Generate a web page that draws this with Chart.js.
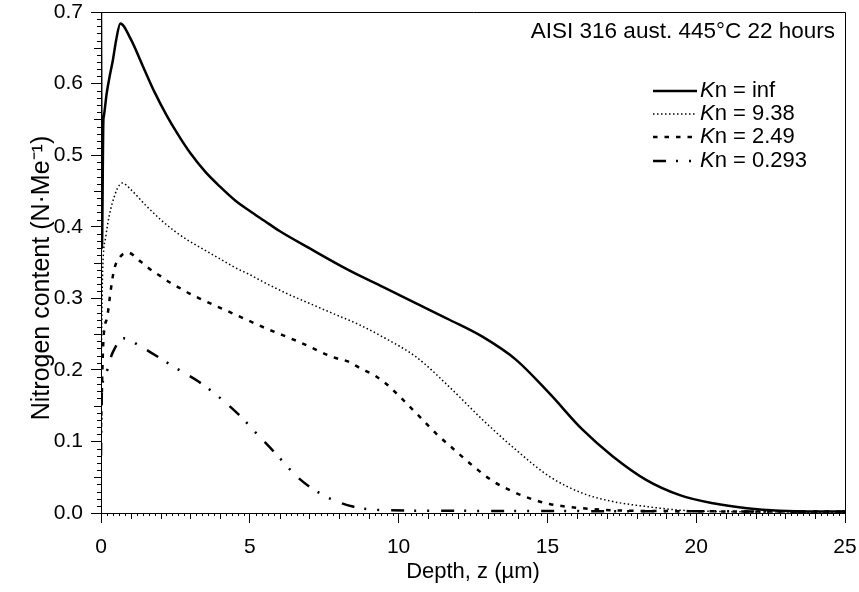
<!DOCTYPE html>
<html>
<head>
<meta charset="utf-8">
<script src="https://cdn.jsdelivr.net/npm/chart.js@4.4.0/dist/chart.umd.min.js"></script>
<style>
  html, body { margin: 0; padding: 0; background: #fff; }
  canvas { display: block; }
</style>
</head>
<body>
<canvas id="nitrogenChart" width="859" height="592"></canvas>
<script>
// depth profiles (z in µm, content in N/Me)
const infDepth = [0, 0.03, 0.08, 0.09, 0.19, 0.29, 0.4, 0.51, 0.65, 1.0, 1.4, 1.8, 2.2, 2.6, 3.0, 3.5, 4.0, 4.5, 5.0, 5.5, 6.0, 7.0, 8.34, 9.47, 10.59, 11.71, 12.83, 13.95, 15.07, 16.19, 17.2, 18.33, 19.45, 20.57, 21.7, 22.8, 24, 25];
const infValues = [0.70, 0.37, 0.549, 0.553, 0.586, 0.61, 0.633, 0.661, 0.684, 0.662, 0.625, 0.588, 0.556, 0.528, 0.503, 0.477, 0.456, 0.437, 0.422, 0.408, 0.394, 0.370, 0.339, 0.316, 0.293, 0.270, 0.246, 0.214, 0.167, 0.116, 0.079, 0.046, 0.025, 0.0135, 0.0066, 0.003, 0.002, 0.002];

const kn938Depth = [0, 0.05, 0.16, 0.38, 0.72, 1.0, 1.5, 2.0, 2.5, 3.0, 3.5, 4.0, 4.5, 5.0, 5.54, 6.33, 7.0, 7.78, 8.68, 9.47, 10.59, 11.71, 12.83, 13.95, 15.07, 16.19, 17.2, 18.33, 19.45, 21, 25];
const kn938Values = [0.18, 0.33, 0.386, 0.433, 0.461, 0.452, 0.430, 0.410, 0.393, 0.379, 0.367, 0.355, 0.343, 0.333, 0.321, 0.305, 0.293, 0.279, 0.263, 0.246, 0.218, 0.176, 0.130, 0.088, 0.051, 0.0275, 0.016, 0.009, 0.004, 0.002, 0.001];

const kn249Depth = [0, 0.08, 0.21, 0.33, 0.44, 0.61, 0.89, 1.34, 1.67, 2.0, 2.32, 2.62, 2.96, 3.3, 4.42, 5.54, 6.66, 7.78, 8.34, 8.68, 9.2, 9.6, 10.03, 10.65, 11.26, 11.91, 12.52, 13.19, 13.84, 14.51, 15.07, 16.19, 18, 25];
const kn249Values = [0.12, 0.24, 0.274, 0.312, 0.34, 0.356, 0.364, 0.351, 0.340, 0.331, 0.322, 0.315, 0.307, 0.300, 0.279, 0.258, 0.239, 0.218, 0.211, 0.203, 0.192, 0.180, 0.163, 0.137, 0.111, 0.087, 0.065, 0.044, 0.030, 0.019, 0.0126, 0.0066, 0.003, 0.002];

const kn0293Depth = [0, 0.03, 0.16, 0.38, 0.77, 1.28, 1.84, 2.62, 3.3, 4.08, 4.64, 5.32, 5.76, 6.66, 7.56, 8.46, 9.5, 12, 25];
const kn0293Values = [0.08, 0.17, 0.195, 0.223, 0.244, 0.234, 0.220, 0.200, 0.183, 0.158, 0.137, 0.107, 0.088, 0.048, 0.023, 0.009, 0.004, 0.003, 0.002];

const seriesLabels = ['inf', '9.38', '2.49', '0.293'];
const noteText = 'AISI 316 aust. 445°C 22 hours';
const xTitle = 'Depth, z (µm)';
const yTitle = 'Nitrogen content (N·Me⁻¹)';

const FONT = '"Liberation Sans", Arial, sans-serif';
Chart.defaults.font.family = FONT;
Chart.defaults.color = '#000';

function toPoints(xs, ys) {
    return xs.map((x, i) => ({ x: x, y: ys[i] }));
}

const lineStyles = [
    { borderWidth: 2.5, borderDash: [] },
    { borderWidth: 1.5, borderDash: [1.5, 2.5] },
    { borderWidth: 2.5, borderDash: [4.5, 7] },
    { borderWidth: 2.5, borderDash: [13, 10, 2, 11, 2, 12] }
];

const allData = [
    toPoints(infDepth, infValues),
    toPoints(kn938Depth, kn938Values),
    toPoints(kn249Depth, kn249Values),
    toPoints(kn0293Depth, kn0293Values)
];

const datasets = allData.map((pts, i) => ({
    label: 'Kn = ' + seriesLabels[i],
    data: pts,
    showLine: true,
    borderColor: '#000',
    backgroundColor: '#000',
    borderWidth: lineStyles[i].borderWidth,
    borderDash: lineStyles[i].borderDash,
    pointRadius: 0,
    cubicInterpolationMode: 'monotone',
    fill: false
}));

// frame, minor ticks, y title, note and legend
const decorations = {
    id: 'decorations',
    afterDraw(chart) {
        const ctx = chart.ctx;
        const area = chart.chartArea;
        const xs = chart.scales.x;
        const ys = chart.scales.y;
        ctx.save();
        ctx.strokeStyle = '#000';
        ctx.lineWidth = 1;
        ctx.beginPath();
        ctx.moveTo(area.left, area.top + 0.5);
        ctx.lineTo(area.right + 0.5, area.top + 0.5);
        ctx.lineTo(area.right + 0.5, area.bottom);
        ctx.stroke();

        // minor ticks on x
        ctx.beginPath();
        for (let i = 0; i <= 125; i++) {
            if (i % 25 === 0) continue;
            const px = Math.round(xs.getPixelForValue(i * 0.2)) + 0.5;
            const len = (i % 5 === 0) ? 6 : 3;
            ctx.moveTo(px, area.bottom);
            ctx.lineTo(px, area.bottom + len);
        }
        // minor ticks on y
        for (let i = 0; i <= 70; i++) {
            if (i % 10 === 0) continue;
            const py = Math.round(ys.getPixelForValue(i / 100)) + 0.5;
            const len = (i % 5 === 0) ? 7 : 4;
            ctx.moveTo(area.left, py);
            ctx.lineTo(area.left - len, py);
        }
        ctx.stroke();

        ctx.fillStyle = '#000';

        // y axis title
        ctx.save();
        ctx.translate(49, 278);
        ctx.rotate(-Math.PI / 2);
        ctx.font = '25px ' + FONT;
        ctx.textAlign = 'center';
        ctx.textBaseline = 'alphabetic';
        ctx.fillText(yTitle, 0, 0);
        ctx.restore();

        // note in the corner
        ctx.font = '22.5px ' + FONT;
        ctx.textAlign = 'right';
        ctx.textBaseline = 'middle';
        ctx.fillText(noteText, area.right - 10, 32);

        // legend
        const rowY = [91, 114, 137, 161];
        chart.data.datasets.forEach((ds, i) => {
            const y = rowY[i];
            ctx.beginPath();
            ctx.lineWidth = ds.borderWidth;
            ctx.setLineDash(ds.borderDash);
            ctx.moveTo(653, y);
            ctx.lineTo(697, y);
            ctx.stroke();
            ctx.setLineDash([]);
            ctx.textAlign = 'left';
            ctx.font = 'italic 22px ' + FONT;
            ctx.fillText('K', 700, y);
            const kw = ctx.measureText('K').width;
            ctx.font = '22px ' + FONT;
            ctx.fillText('n = ' + seriesLabels[i], 700 + kw, y);
        });
        ctx.restore();
    }
};

const chart = new Chart(document.getElementById('nitrogenChart'), {
    type: 'scatter',
    data: { datasets: datasets },
    options: {
        responsive: false,
        animation: false,
        devicePixelRatio: 1,
        layout: { padding: { top: 12, right: 14, left: 0, bottom: 0 } },
        plugins: {
            legend: { display: false },
            tooltip: { enabled: false }
        },
        scales: {
            x: {
                type: 'linear',
                min: 0,
                max: 25,
                afterFit: (scale) => {
                    scale.height = 79;
                    scale.paddingLeft = 0;
                    scale.paddingRight = 0;
                },
                border: { display: true, color: '#000', width: 1 },
                grid: { drawOnChartArea: false, drawTicks: true, tickLength: 10, color: '#000' },
                ticks: { stepSize: 5, padding: 12, font: { size: 21 }, maxRotation: 0 },
                title: { display: true, text: xTitle, font: { size: 22 }, padding: { top: 0, bottom: 7 } }
            },
            y: {
                type: 'linear',
                min: 0,
                max: 0.7,
                afterFit: (scale) => {
                    scale.width = 101;
                    scale.paddingTop = 0;
                    scale.paddingBottom = 0;
                },
                border: { display: true, color: '#000', width: 1 },
                grid: { drawOnChartArea: false, drawTicks: true, tickLength: 10, color: '#000' },
                ticks: {
                    stepSize: 0.1,
                    padding: 8,
                    font: { size: 21 },
                    callback: (v) => v.toFixed(1)
                }
            }
        }
    },
    plugins: [decorations]
});
</script>
</body>
</html>
